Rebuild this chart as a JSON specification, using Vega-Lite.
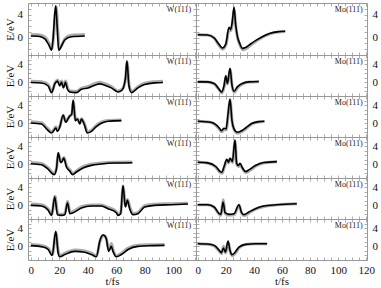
{
"$schema": "https://vega.github.io/schema/vega-lite/v6.json",
"padding": {"left": 3, "top": 0, "right": 0, "bottom": 0},
"background": "white",
"config": {
  "view": {"stroke": "#999999", "strokeWidth": 1},
  "font": "Liberation Serif",
  "axis": {"domain": false, "grid": false, "tickSize": -3, "tickColor": "#999999", "tickWidth": 0.8, "labelFont": "Liberation Serif", "labelFontSize": 11, "labelColor": "#111111", "titleFont": "Liberation Serif", "titleFontSize": 11, "titleFontWeight": "normal", "titleColor": "#111111", "labelFlush": false, "labelOverlap": false, "minExtent": 0}
},
"datasets": {"d": [
{"p":"L1","s":"b","t":0,"E":0.3},{"p":"L1","s":"b","t":5.2,"E":0.25},{"p":"L1","s":"b","t":9.8,"E":-0.2},{"p":"L1","s":"b","t":12.9,"E":-1.4},{"p":"L1","s":"b","t":14.5,"E":-2.2},{"p":"L1","s":"b","t":15.7,"E":0.1},{"p":"L1","s":"b","t":16.8,"E":4.1},{"p":"L1","s":"b","t":17.5,"E":5.5},{"p":"L1","s":"b","t":18.5,"E":1.8},{"p":"L1","s":"b","t":19.6,"E":-2.2},{"p":"L1","s":"b","t":21,"E":-1.7},{"p":"L1","s":"b","t":23.8,"E":-0.4},{"p":"L1","s":"b","t":28.5,"E":0.15},{"p":"L1","s":"b","t":37.9,"E":0.3},
{"p":"L1","s":"g","t":0,"E":0.55},{"p":"L1","s":"g","t":5.2,"E":0.5},{"p":"L1","s":"g","t":9.8,"E":0.1},{"p":"L1","s":"g","t":12.9,"E":-1.0},{"p":"L1","s":"g","t":14.8,"E":-1.9},{"p":"L1","s":"g","t":16,"E":0.3},{"p":"L1","s":"g","t":17.1,"E":4.2},{"p":"L1","s":"g","t":17.8,"E":5.3},{"p":"L1","s":"g","t":18.8,"E":1.8},{"p":"L1","s":"g","t":20,"E":-1.9},{"p":"L1","s":"g","t":21.5,"E":-1.4},{"p":"L1","s":"g","t":24.2,"E":-0.1},{"p":"L1","s":"g","t":28.5,"E":0.4},{"p":"L1","s":"g","t":37.9,"E":0.55},
{"p":"R1","s":"b","t":0,"E":0.5},{"p":"R1","s":"b","t":7,"E":0.45},{"p":"R1","s":"b","t":11.75,"E":-0.05},{"p":"R1","s":"b","t":15.3,"E":-1.2},{"p":"R1","s":"b","t":17.6,"E":-1.8},{"p":"R1","s":"b","t":20,"E":-1.1},{"p":"R1","s":"b","t":22.3,"E":1.8},{"p":"R1","s":"b","t":23.5,"E":1.4},{"p":"R1","s":"b","t":24.7,"E":2.95},{"p":"R1","s":"b","t":25.85,"E":5.3},{"p":"R1","s":"b","t":27,"E":2.3},{"p":"R1","s":"b","t":28.2,"E":0.3},{"p":"R1","s":"b","t":30.1,"E":-1.1},{"p":"R1","s":"b","t":31.7,"E":-1.85},{"p":"R1","s":"b","t":34.1,"E":-1.7},{"p":"R1","s":"b","t":37.6,"E":-1.1},{"p":"R1","s":"b","t":42.3,"E":-0.35},{"p":"R1","s":"b","t":47,"E":0.3},{"p":"R1","s":"b","t":51.7,"E":0.75},{"p":"R1","s":"b","t":56.4,"E":1.0},{"p":"R1","s":"b","t":62.3,"E":1.1},
{"p":"R1","s":"g","t":0,"E":0.5},{"p":"R1","s":"g","t":7,"E":0.45},{"p":"R1","s":"g","t":11.75,"E":-0.1},{"p":"R1","s":"g","t":15.3,"E":-1.35},{"p":"R1","s":"g","t":17.8,"E":-2.0},{"p":"R1","s":"g","t":20.2,"E":-1.2},{"p":"R1","s":"g","t":22.4,"E":1.5},{"p":"R1","s":"g","t":23.6,"E":1.2},{"p":"R1","s":"g","t":24.8,"E":2.6},{"p":"R1","s":"g","t":25.9,"E":4.8},{"p":"R1","s":"g","t":27.1,"E":2.0},{"p":"R1","s":"g","t":28.4,"E":0.0},{"p":"R1","s":"g","t":30.3,"E":-1.4},{"p":"R1","s":"g","t":32.1,"E":-2.1},{"p":"R1","s":"g","t":34.5,"E":-1.9},{"p":"R1","s":"g","t":38,"E":-1.25},{"p":"R1","s":"g","t":42.5,"E":-0.45},{"p":"R1","s":"g","t":47,"E":0.2},{"p":"R1","s":"g","t":51.7,"E":0.7},{"p":"R1","s":"g","t":56.4,"E":0.95},{"p":"R1","s":"g","t":62.3,"E":1.05},
{"p":"L2","s":"b","t":0,"E":-0.05},{"p":"L2","s":"b","t":7.5,"E":-0.15},{"p":"L2","s":"b","t":12.2,"E":-0.8},{"p":"L2","s":"b","t":14.5,"E":-2.26},{"p":"L2","s":"b","t":16.9,"E":-0.3},{"p":"L2","s":"b","t":18.7,"E":0.26},{"p":"L2","s":"b","t":20.3,"E":-0.78},{"p":"L2","s":"b","t":21.5,"E":0},{"p":"L2","s":"b","t":22.9,"E":-1.22},{"p":"L2","s":"b","t":24.3,"E":0},{"p":"L2","s":"b","t":25.7,"E":-1.52},{"p":"L2","s":"b","t":27.4,"E":-2.11},{"p":"L2","s":"b","t":32,"E":-2.26},{"p":"L2","s":"b","t":35.5,"E":-1.52},{"p":"L2","s":"b","t":40.2,"E":-1.22},{"p":"L2","s":"b","t":44.9,"E":-0.63},{"p":"L2","s":"b","t":48.4,"E":-0.33},{"p":"L2","s":"b","t":51.9,"E":-0.63},{"p":"L2","s":"b","t":56.5,"E":-1.22},{"p":"L2","s":"b","t":61.2,"E":-2.11},{"p":"L2","s":"b","t":64,"E":-1.74},{"p":"L2","s":"b","t":66.4,"E":0.8},{"p":"L2","s":"b","t":67.5,"E":4.7},{"p":"L2","s":"b","t":68.9,"E":-0.8},{"p":"L2","s":"b","t":70.6,"E":-2.26},{"p":"L2","s":"b","t":75.2,"E":-1.22},{"p":"L2","s":"b","t":79.9,"E":-0.48},{"p":"L2","s":"b","t":86.9,"E":-0.11},{"p":"L2","s":"b","t":92.8,"E":-0.04},
{"p":"L2","s":"g","t":0,"E":0.25},{"p":"L2","s":"g","t":7.5,"E":0.15},{"p":"L2","s":"g","t":12.2,"E":-0.5},{"p":"L2","s":"g","t":14.8,"E":-2.0},{"p":"L2","s":"g","t":17,"E":-0.1},{"p":"L2","s":"g","t":18.8,"E":0.5},{"p":"L2","s":"g","t":20.4,"E":-0.5},{"p":"L2","s":"g","t":21.6,"E":0.3},{"p":"L2","s":"g","t":23,"E":-0.9},{"p":"L2","s":"g","t":24.4,"E":0.3},{"p":"L2","s":"g","t":25.8,"E":-1.2},{"p":"L2","s":"g","t":27.6,"E":-1.9},{"p":"L2","s":"g","t":32,"E":-2.0},{"p":"L2","s":"g","t":35.5,"E":-1.3},{"p":"L2","s":"g","t":40.2,"E":-0.9},{"p":"L2","s":"g","t":44.9,"E":-0.3},{"p":"L2","s":"g","t":48.4,"E":0.0},{"p":"L2","s":"g","t":51.9,"E":-0.3},{"p":"L2","s":"g","t":56.5,"E":-0.95},{"p":"L2","s":"g","t":61.2,"E":-1.9},{"p":"L2","s":"g","t":64.2,"E":-1.5},{"p":"L2","s":"g","t":66.5,"E":0.8},{"p":"L2","s":"g","t":67.6,"E":4.4},{"p":"L2","s":"g","t":69,"E":-0.6},{"p":"L2","s":"g","t":70.8,"E":-2.0},{"p":"L2","s":"g","t":75.4,"E":-0.9},{"p":"L2","s":"g","t":80,"E":-0.2},{"p":"L2","s":"g","t":87,"E":0.15},{"p":"L2","s":"g","t":92.8,"E":0.25},
{"p":"R2","s":"b","t":0,"E":0.11},{"p":"R2","s":"b","t":7,"E":0.11},{"p":"R2","s":"b","t":11.75,"E":-0.26},{"p":"R2","s":"b","t":15.3,"E":-1.52},{"p":"R2","s":"b","t":16.9,"E":-2.11},{"p":"R2","s":"b","t":18.8,"E":-0.63},{"p":"R2","s":"b","t":20,"E":1.44},{"p":"R2","s":"b","t":21.15,"E":-0.26},{"p":"R2","s":"b","t":23,"E":3.07},{"p":"R2","s":"b","t":24.4,"E":-0.63},{"p":"R2","s":"b","t":25.85,"E":-1.96},{"p":"R2","s":"b","t":28.2,"E":-1.0},{"p":"R2","s":"b","t":31.7,"E":-0.26},{"p":"R2","s":"b","t":36.4,"E":0.11},{"p":"R2","s":"b","t":43.5,"E":0.18},
{"p":"R2","s":"g","t":0,"E":0.11},{"p":"R2","s":"g","t":7,"E":0.1},{"p":"R2","s":"g","t":11.75,"E":-0.35},{"p":"R2","s":"g","t":15.4,"E":-1.7},{"p":"R2","s":"g","t":17.1,"E":-2.35},{"p":"R2","s":"g","t":19,"E":-0.8},{"p":"R2","s":"g","t":20.1,"E":1.2},{"p":"R2","s":"g","t":21.3,"E":-0.4},{"p":"R2","s":"g","t":23.1,"E":2.8},{"p":"R2","s":"g","t":24.5,"E":-0.8},{"p":"R2","s":"g","t":26.1,"E":-2.2},{"p":"R2","s":"g","t":28.4,"E":-1.2},{"p":"R2","s":"g","t":31.9,"E":-0.4},{"p":"R2","s":"g","t":36.4,"E":0.05},{"p":"R2","s":"g","t":43.5,"E":0.15},
{"p":"L3","s":"b","t":0,"E":0.08},{"p":"L3","s":"b","t":7.5,"E":-0.14},{"p":"L3","s":"b","t":11,"E":-1.23},{"p":"L3","s":"b","t":14.5,"E":-2.11},{"p":"L3","s":"b","t":16.4,"E":-1.45},{"p":"L3","s":"b","t":17.5,"E":-1.02},{"p":"L3","s":"b","t":18.7,"E":-1.75},{"p":"L3","s":"b","t":20.3,"E":-0.87},{"p":"L3","s":"b","t":22.7,"E":1.84},{"p":"L3","s":"b","t":24.5,"E":0.23},{"p":"L3","s":"b","t":25.7,"E":0.74},{"p":"L3","s":"b","t":27.3,"E":1.6},{"p":"L3","s":"b","t":28.7,"E":2.0},{"p":"L3","s":"b","t":29.7,"E":5.1},{"p":"L3","s":"b","t":31.3,"E":0.59},{"p":"L3","s":"b","t":32.7,"E":0.96},{"p":"L3","s":"b","t":34.4,"E":-0.14},{"p":"L3","s":"b","t":35.5,"E":0.96},{"p":"L3","s":"b","t":37.4,"E":-0.14},{"p":"L3","s":"b","t":39.7,"E":-2.11},{"p":"L3","s":"b","t":42.5,"E":-1.75},{"p":"L3","s":"b","t":46,"E":-0.72},{"p":"L3","s":"b","t":49.5,"E":0},{"p":"L3","s":"b","t":54.2,"E":0.45},{"p":"L3","s":"b","t":63.6,"E":0.59},
{"p":"L3","s":"g","t":0,"E":0.35},{"p":"L3","s":"g","t":7.5,"E":0.15},{"p":"L3","s":"g","t":11,"E":-0.9},{"p":"L3","s":"g","t":14.8,"E":-1.85},{"p":"L3","s":"g","t":16.5,"E":-1.2},{"p":"L3","s":"g","t":17.6,"E":-0.75},{"p":"L3","s":"g","t":18.8,"E":-1.45},{"p":"L3","s":"g","t":20.4,"E":-0.6},{"p":"L3","s":"g","t":22.8,"E":1.7},{"p":"L3","s":"g","t":24.6,"E":0.4},{"p":"L3","s":"g","t":25.8,"E":0.9},{"p":"L3","s":"g","t":27.4,"E":1.6},{"p":"L3","s":"g","t":28.8,"E":2.0},{"p":"L3","s":"g","t":29.8,"E":4.8},{"p":"L3","s":"g","t":31.4,"E":0.7},{"p":"L3","s":"g","t":32.8,"E":1.0},{"p":"L3","s":"g","t":34.5,"E":0.05},{"p":"L3","s":"g","t":35.6,"E":1.0},{"p":"L3","s":"g","t":37.5,"E":0.05},{"p":"L3","s":"g","t":39.9,"E":-1.85},{"p":"L3","s":"g","t":42.7,"E":-1.5},{"p":"L3","s":"g","t":46,"E":-0.45},{"p":"L3","s":"g","t":49.5,"E":0.25},{"p":"L3","s":"g","t":54.2,"E":0.65},{"p":"L3","s":"g","t":63.6,"E":0.75},
{"p":"R3","s":"b","t":0,"E":0.45},{"p":"R3","s":"b","t":9.4,"E":0.23},{"p":"R3","s":"b","t":12.9,"E":-0.29},{"p":"R3","s":"b","t":15.3,"E":-1.02},{"p":"R3","s":"b","t":16.9,"E":-1.6},{"p":"R3","s":"b","t":18.8,"E":-1.09},{"p":"R3","s":"b","t":20.2,"E":-1.23},{"p":"R3","s":"b","t":21.6,"E":2.05},{"p":"R3","s":"b","t":23,"E":5.34},{"p":"R3","s":"b","t":24.4,"E":0.59},{"p":"R3","s":"b","t":25.85,"E":-1.23},{"p":"R3","s":"b","t":28.2,"E":-1.97},{"p":"R3","s":"b","t":30.55,"E":-1.75},{"p":"R3","s":"b","t":34.1,"E":-1.02},{"p":"R3","s":"b","t":38.8,"E":0},{"p":"R3","s":"b","t":43.5,"E":0.37},{"p":"R3","s":"b","t":47.5,"E":0.45},
{"p":"R3","s":"g","t":0,"E":0.45},{"p":"R3","s":"g","t":9.4,"E":0.2},{"p":"R3","s":"g","t":12.9,"E":-0.4},{"p":"R3","s":"g","t":15.3,"E":-1.25},{"p":"R3","s":"g","t":17,"E":-1.85},{"p":"R3","s":"g","t":18.9,"E":-1.3},{"p":"R3","s":"g","t":20.3,"E":-1.4},{"p":"R3","s":"g","t":21.7,"E":1.8},{"p":"R3","s":"g","t":23.1,"E":5.0},{"p":"R3","s":"g","t":24.5,"E":0.4},{"p":"R3","s":"g","t":26,"E":-1.45},{"p":"R3","s":"g","t":28.4,"E":-2.2},{"p":"R3","s":"g","t":30.7,"E":-1.95},{"p":"R3","s":"g","t":34.3,"E":-1.2},{"p":"R3","s":"g","t":38.8,"E":-0.1},{"p":"R3","s":"g","t":43.5,"E":0.3},{"p":"R3","s":"g","t":47.5,"E":0.4},
{"p":"L4","s":"b","t":0,"E":0.14},{"p":"L4","s":"b","t":7.5,"E":-0.08},{"p":"L4","s":"b","t":12.2,"E":-1.1},{"p":"L4","s":"b","t":16.4,"E":-2.27},{"p":"L4","s":"b","t":18,"E":-0.96},{"p":"L4","s":"b","t":19.2,"E":2.55},{"p":"L4","s":"b","t":21,"E":0.36},{"p":"L4","s":"b","t":22,"E":0.65},{"p":"L4","s":"b","t":23.1,"E":1.38},{"p":"L4","s":"b","t":25,"E":-0.59},{"p":"L4","s":"b","t":27.4,"E":-1.54},{"p":"L4","s":"b","t":29.2,"E":-2.27},{"p":"L4","s":"b","t":32,"E":-1.69},{"p":"L4","s":"b","t":36.7,"E":-0.81},{"p":"L4","s":"b","t":42.5,"E":-0.23},{"p":"L4","s":"b","t":49.5,"E":0.07},{"p":"L4","s":"b","t":58.9,"E":0.29},{"p":"L4","s":"b","t":71.3,"E":0.36},
{"p":"L4","s":"g","t":0,"E":0.4},{"p":"L4","s":"g","t":7.5,"E":0.2},{"p":"L4","s":"g","t":12.2,"E":-0.8},{"p":"L4","s":"g","t":16.6,"E":-2.0},{"p":"L4","s":"g","t":18.1,"E":-0.7},{"p":"L4","s":"g","t":19.3,"E":2.4},{"p":"L4","s":"g","t":21.1,"E":0.6},{"p":"L4","s":"g","t":22.1,"E":0.85},{"p":"L4","s":"g","t":23.2,"E":1.5},{"p":"L4","s":"g","t":25.1,"E":-0.3},{"p":"L4","s":"g","t":27.5,"E":-1.25},{"p":"L4","s":"g","t":29.4,"E":-2.0},{"p":"L4","s":"g","t":32.2,"E":-1.4},{"p":"L4","s":"g","t":36.7,"E":-0.5},{"p":"L4","s":"g","t":42.5,"E":0.05},{"p":"L4","s":"g","t":49.5,"E":0.3},{"p":"L4","s":"g","t":58.9,"E":0.45},{"p":"L4","s":"g","t":71.3,"E":0.5},
{"p":"R4","s":"b","t":0,"E":0.47},{"p":"R4","s":"b","t":7,"E":0.32},{"p":"R4","s":"b","t":12.9,"E":-0.48},{"p":"R4","s":"b","t":16,"E":-1.58},{"p":"R4","s":"b","t":17.15,"E":-1.73},{"p":"R4","s":"b","t":18.8,"E":-0.48},{"p":"R4","s":"b","t":20.7,"E":1.13},{"p":"R4","s":"b","t":21.85,"E":0.47},{"p":"R4","s":"b","t":23,"E":1.35},{"p":"R4","s":"b","t":24.7,"E":0.61},{"p":"R4","s":"b","t":26.55,"E":5.37},{"p":"R4","s":"b","t":27.7,"E":0.25},{"p":"R4","s":"b","t":28.9,"E":-0.26},{"p":"R4","s":"b","t":30.1,"E":0.25},{"p":"R4","s":"b","t":31.7,"E":-0.7},{"p":"R4","s":"b","t":34.1,"E":-1.58},{"p":"R4","s":"b","t":36.4,"E":-1.21},{"p":"R4","s":"b","t":41.1,"E":-0.26},{"p":"R4","s":"b","t":47,"E":0.39},{"p":"R4","s":"b","t":56.4,"E":0.6},
{"p":"R4","s":"g","t":0,"E":0.45},{"p":"R4","s":"g","t":7,"E":0.3},{"p":"R4","s":"g","t":12.9,"E":-0.6},{"p":"R4","s":"g","t":16.1,"E":-1.8},{"p":"R4","s":"g","t":17.3,"E":-1.95},{"p":"R4","s":"g","t":18.9,"E":-0.7},{"p":"R4","s":"g","t":20.8,"E":0.9},{"p":"R4","s":"g","t":22,"E":0.3},{"p":"R4","s":"g","t":23.1,"E":1.2},{"p":"R4","s":"g","t":24.8,"E":0.4},{"p":"R4","s":"g","t":26.6,"E":5.0},{"p":"R4","s":"g","t":27.8,"E":0.0},{"p":"R4","s":"g","t":29,"E":-0.5},{"p":"R4","s":"g","t":30.2,"E":0.0},{"p":"R4","s":"g","t":31.9,"E":-0.95},{"p":"R4","s":"g","t":34.3,"E":-1.8},{"p":"R4","s":"g","t":36.6,"E":-1.45},{"p":"R4","s":"g","t":41.2,"E":-0.4},{"p":"R4","s":"g","t":47,"E":0.3},{"p":"R4","s":"g","t":56.4,"E":0.55},
{"p":"L5","s":"b","t":0,"E":0},{"p":"L5","s":"b","t":7.5,"E":-0.15},{"p":"L5","s":"b","t":12.2,"E":-1.1},{"p":"L5","s":"b","t":14.5,"E":-2.2},{"p":"L5","s":"b","t":16.8,"E":1.82},{"p":"L5","s":"b","t":18.7,"E":-2.05},{"p":"L5","s":"b","t":21.5,"E":-2.2},{"p":"L5","s":"b","t":23.9,"E":-2.05},{"p":"L5","s":"b","t":25.7,"E":0.58},{"p":"L5","s":"b","t":27.4,"E":-1.83},{"p":"L5","s":"b","t":29.7,"E":-1.62},{"p":"L5","s":"b","t":35.5,"E":-0.59},{"p":"L5","s":"b","t":42.5,"E":-0.15},{"p":"L5","s":"b","t":49.5,"E":-0.15},{"p":"L5","s":"b","t":54.2,"E":-0.73},{"p":"L5","s":"b","t":60,"E":-1.62},{"p":"L5","s":"b","t":61.2,"E":-2.2},{"p":"L5","s":"b","t":63.1,"E":-1.83},{"p":"L5","s":"b","t":64.7,"E":4.38},{"p":"L5","s":"b","t":66.4,"E":-0.37},{"p":"L5","s":"b","t":67.8,"E":1.09},{"p":"L5","s":"b","t":69.4,"E":-0.73},{"p":"L5","s":"b","t":71.7,"E":-2.05},{"p":"L5","s":"b","t":75.2,"E":-1.83},{"p":"L5","s":"b","t":79.9,"E":-0.37},{"p":"L5","s":"b","t":86.9,"E":0},{"p":"L5","s":"b","t":98.6,"E":0.14},{"p":"L5","s":"b","t":110.3,"E":0.29},
{"p":"L5","s":"g","t":0,"E":0.3},{"p":"L5","s":"g","t":7.5,"E":0.15},{"p":"L5","s":"g","t":12.2,"E":-0.8},{"p":"L5","s":"g","t":14.7,"E":-1.95},{"p":"L5","s":"g","t":17,"E":2.0},{"p":"L5","s":"g","t":18.9,"E":-1.8},{"p":"L5","s":"g","t":21.5,"E":-1.95},{"p":"L5","s":"g","t":23.9,"E":-1.8},{"p":"L5","s":"g","t":25.8,"E":0.9},{"p":"L5","s":"g","t":27.6,"E":-1.55},{"p":"L5","s":"g","t":29.8,"E":-1.35},{"p":"L5","s":"g","t":35.5,"E":-0.3},{"p":"L5","s":"g","t":42.5,"E":0.1},{"p":"L5","s":"g","t":49.5,"E":0.1},{"p":"L5","s":"g","t":54.2,"E":-0.45},{"p":"L5","s":"g","t":60,"E":-1.35},{"p":"L5","s":"g","t":61.4,"E":-1.95},{"p":"L5","s":"g","t":63.2,"E":-1.5},{"p":"L5","s":"g","t":64.8,"E":4.1},{"p":"L5","s":"g","t":66.5,"E":-0.1},{"p":"L5","s":"g","t":67.9,"E":1.3},{"p":"L5","s":"g","t":69.6,"E":-0.45},{"p":"L5","s":"g","t":71.9,"E":-1.8},{"p":"L5","s":"g","t":75.3,"E":-1.55},{"p":"L5","s":"g","t":79.9,"E":-0.1},{"p":"L5","s":"g","t":86.9,"E":0.25},{"p":"L5","s":"g","t":98.6,"E":0.35},{"p":"L5","s":"g","t":110.3,"E":0.45},
{"p":"R5","s":"b","t":0,"E":0.14},{"p":"R5","s":"b","t":7,"E":0.14},{"p":"R5","s":"b","t":11.75,"E":-0.37},{"p":"R5","s":"b","t":15.3,"E":-1.83},{"p":"R5","s":"b","t":16.45,"E":-1.98},{"p":"R5","s":"b","t":18.1,"E":0.72},{"p":"R5","s":"b","t":19.5,"E":-1.62},{"p":"R5","s":"b","t":22.3,"E":-1.98},{"p":"R5","s":"b","t":25.85,"E":-1.83},{"p":"R5","s":"b","t":29.4,"E":0.14},{"p":"R5","s":"b","t":31.25,"E":-1.62},{"p":"R5","s":"b","t":32.9,"E":-2.05},{"p":"R5","s":"b","t":36.4,"E":-1.47},{"p":"R5","s":"b","t":41.1,"E":-0.73},{"p":"R5","s":"b","t":47,"E":-0.15},{"p":"R5","s":"b","t":56.4,"E":0.14},{"p":"R5","s":"b","t":70.55,"E":0.36},
{"p":"R5","s":"g","t":0,"E":0.14},{"p":"R5","s":"g","t":7,"E":0.12},{"p":"R5","s":"g","t":11.75,"E":-0.45},{"p":"R5","s":"g","t":15.4,"E":-2.0},{"p":"R5","s":"g","t":16.6,"E":-2.15},{"p":"R5","s":"g","t":18.2,"E":1.2},{"p":"R5","s":"g","t":19.6,"E":-1.8},{"p":"R5","s":"g","t":22.3,"E":-2.15},{"p":"R5","s":"g","t":26,"E":-2.0},{"p":"R5","s":"g","t":29.5,"E":0.0},{"p":"R5","s":"g","t":31.4,"E":-1.85},{"p":"R5","s":"g","t":33.1,"E":-2.25},{"p":"R5","s":"g","t":36.6,"E":-1.65},{"p":"R5","s":"g","t":41.2,"E":-0.85},{"p":"R5","s":"g","t":47,"E":-0.25},{"p":"R5","s":"g","t":56.4,"E":0.1},{"p":"R5","s":"g","t":70.55,"E":0.33},
{"p":"L6","s":"b","t":0,"E":0.15},{"p":"L6","s":"b","t":8.7,"E":-0.15},{"p":"L6","s":"b","t":12.2,"E":-0.7},{"p":"L6","s":"b","t":15,"E":-2.0},{"p":"L6","s":"b","t":17.5,"E":3.3},{"p":"L6","s":"b","t":19.2,"E":-1.5},{"p":"L6","s":"b","t":20.3,"E":-2.3},{"p":"L6","s":"b","t":23.9,"E":-1.8},{"p":"L6","s":"b","t":30.9,"E":-1.1},{"p":"L6","s":"b","t":37.9,"E":-1.3},{"p":"L6","s":"b","t":42.5,"E":-1.8},{"p":"L6","s":"b","t":46,"E":-2.3},{"p":"L6","s":"b","t":48.4,"E":1.1},{"p":"L6","s":"b","t":49.6,"E":2.2},{"p":"L6","s":"b","t":50.7,"E":2.5},{"p":"L6","s":"b","t":52,"E":2.3},{"p":"L6","s":"b","t":53,"E":1.6},{"p":"L6","s":"b","t":54.7,"E":-1.1},{"p":"L6","s":"b","t":56.5,"E":0},{"p":"L6","s":"b","t":57.7,"E":-1.1},{"p":"L6","s":"b","t":60,"E":-2.3},{"p":"L6","s":"b","t":63.6,"E":-1.8},{"p":"L6","s":"b","t":68.3,"E":-0.7},{"p":"L6","s":"b","t":75.2,"E":0},{"p":"L6","s":"b","t":84.6,"E":0.15},{"p":"L6","s":"b","t":93.9,"E":0.2},
{"p":"L6","s":"g","t":0,"E":0.4},{"p":"L6","s":"g","t":8.7,"E":0.1},{"p":"L6","s":"g","t":12.2,"E":-0.45},{"p":"L6","s":"g","t":15.2,"E":-1.75},{"p":"L6","s":"g","t":17.6,"E":3.0},{"p":"L6","s":"g","t":19.3,"E":-1.2},{"p":"L6","s":"g","t":20.5,"E":-2.0},{"p":"L6","s":"g","t":23.9,"E":-1.5},{"p":"L6","s":"g","t":30.9,"E":-0.8},{"p":"L6","s":"g","t":37.9,"E":-1.0},{"p":"L6","s":"g","t":42.5,"E":-1.5},{"p":"L6","s":"g","t":46.2,"E":-2.05},{"p":"L6","s":"g","t":48.5,"E":1.0},{"p":"L6","s":"g","t":49.7,"E":2.0},{"p":"L6","s":"g","t":50.8,"E":2.3},{"p":"L6","s":"g","t":52.1,"E":2.2},{"p":"L6","s":"g","t":53.1,"E":1.6},{"p":"L6","s":"g","t":54.8,"E":-0.8},{"p":"L6","s":"g","t":56.6,"E":0.6},{"p":"L6","s":"g","t":57.8,"E":-0.8},{"p":"L6","s":"g","t":60.2,"E":-2.05},{"p":"L6","s":"g","t":63.7,"E":-1.5},{"p":"L6","s":"g","t":68.3,"E":-0.4},{"p":"L6","s":"g","t":75.2,"E":0.25},{"p":"L6","s":"g","t":84.6,"E":0.35},{"p":"L6","s":"g","t":93.9,"E":0.4},
{"p":"R6","s":"b","t":0,"E":0.58},{"p":"R6","s":"b","t":7,"E":0.5},{"p":"R6","s":"b","t":11.75,"E":0.21},{"p":"R6","s":"b","t":15.3,"E":-0.88},{"p":"R6","s":"b","t":16.9,"E":-1.4},{"p":"R6","s":"b","t":18.3,"E":-0.37},{"p":"R6","s":"b","t":19.75,"E":-1.25},{"p":"R6","s":"b","t":21.6,"E":1.16},{"p":"R6","s":"b","t":23,"E":-0.88},{"p":"R6","s":"b","t":24.4,"E":-1.84},{"p":"R6","s":"b","t":26.3,"E":-1.4},{"p":"R6","s":"b","t":29.4,"E":-0.15},{"p":"R6","s":"b","t":34.1,"E":0.43},{"p":"R6","s":"b","t":41.1,"E":0.58},{"p":"R6","s":"b","t":49.4,"E":0.58},
{"p":"R6","s":"g","t":0,"E":0.55},{"p":"R6","s":"g","t":7,"E":0.48},{"p":"R6","s":"g","t":11.75,"E":0.1},{"p":"R6","s":"g","t":15.4,"E":-1.05},{"p":"R6","s":"g","t":17,"E":-1.6},{"p":"R6","s":"g","t":18.4,"E":0.0},{"p":"R6","s":"g","t":19.9,"E":-1.45},{"p":"R6","s":"g","t":21.7,"E":0.95},{"p":"R6","s":"g","t":23.1,"E":-1.1},{"p":"R6","s":"g","t":24.6,"E":-2.05},{"p":"R6","s":"g","t":26.5,"E":-1.6},{"p":"R6","s":"g","t":29.5,"E":-0.3},{"p":"R6","s":"g","t":34.1,"E":0.38},{"p":"R6","s":"g","t":41.1,"E":0.55},{"p":"R6","s":"g","t":49.4,"E":0.55}
]},
"columns": 2,
"spacing": 0,
"bounds": "flush",
"align": "each",
"concat": [
 {"width": 168, "height": 52, "data": {"name": "d"}, "layer": [
  {"transform": [{"filter": "datum.p == 'L1' && datum.s == 'g'"}], "mark": {"type": "line", "color": "#ababab", "strokeWidth": 3, "interpolate": "monotone"},
   "encoding": {"x": {"field": "t", "type": "quantitative", "scale": {"domain": [-2, 116], "nice": false, "zero": false}, "axis": {"orient": "bottom", "values": [0,5,10,15,20,25,30,35,40,45,50,55,60,65,70,75,80,85,90,95,100,105,110,115], "labels": false, "title": null}},
    "y": {"field": "E", "type": "quantitative", "scale": {"domain": [-3, 6], "nice": false, "zero": false}, "axis": {"orient": "left", "values": [-2,-1,0,1,2,3,4,5], "labelExpr": "datum.value == 0 || datum.value == 4 ? datum.label : ''", "labelPadding": 8.5, "title": "E/eV", "titlePadding": 2}}}},
  {"transform": [{"filter": "datum.p == 'L1' && datum.s == 'b'"}], "mark": {"type": "line", "color": "#000000", "strokeWidth": 1.6, "interpolate": "monotone"},
   "encoding": {"x": {"field": "t", "type": "quantitative", "axis": {"orient": "top", "values": [0,5,10,15,20,25,30,35,40,45,50,55,60,65,70,75,80,85,90,95,100,105,110,115], "labels": false, "title": null}},
    "y": {"field": "E", "type": "quantitative", "axis": {"orient": "right", "values": [-2,-1,0,1,2,3,4,5], "labels": false, "title": null}}}},
  {"data": {"values": [{}]}, "mark": {"type": "text", "text": "W(111)", "align": "right", "baseline": "middle", "fontSize": 8, "font": "Liberation Serif", "color": "#222222"},
   "encoding": {"x": {"datum": 112.6, "type": "quantitative", "axis": null}, "y": {"datum": 4.8, "type": "quantitative", "axis": null}}}
 ], "resolve": {"axis": {"x": "independent", "y": "independent"}}},
 {"width": 171, "height": 52, "data": {"name": "d"}, "layer": [
  {"transform": [{"filter": "datum.p == 'R1' && datum.s == 'g'"}], "mark": {"type": "line", "color": "#ababab", "strokeWidth": 3, "interpolate": "monotone"},
   "encoding": {"x": {"field": "t", "type": "quantitative", "scale": {"domain": [-1.2, 120.5], "nice": false, "zero": false}, "axis": {"orient": "bottom", "values": [0,5,10,15,20,25,30,35,40,45,50,55,60,65,70,75,80,85,90,95,100,105,110,115,120], "labels": false, "title": null}},
    "y": {"field": "E", "type": "quantitative", "scale": {"domain": [-3, 6], "nice": false, "zero": false}, "axis": {"orient": "right", "values": [-2,-1,0,1,2,3,4,5], "labelExpr": "datum.value == 0 || datum.value == 4 ? datum.label : ''", "labelPadding": 8, "title": null}}}},
  {"transform": [{"filter": "datum.p == 'R1' && datum.s == 'b'"}], "mark": {"type": "line", "color": "#000000", "strokeWidth": 1.6, "interpolate": "monotone"},
   "encoding": {"x": {"field": "t", "type": "quantitative", "axis": {"orient": "top", "values": [0,5,10,15,20,25,30,35,40,45,50,55,60,65,70,75,80,85,90,95,100,105,110,115,120], "labels": false, "title": null}},
    "y": {"field": "E", "type": "quantitative", "axis": {"orient": "left", "values": [-2,-1,0,1,2,3,4,5], "labels": false, "title": null}}}},
  {"data": {"values": [{}]}, "mark": {"type": "text", "text": "Mo(111)", "align": "right", "baseline": "middle", "fontSize": 8, "font": "Liberation Serif", "color": "#222222"},
   "encoding": {"x": {"datum": 117.4, "type": "quantitative", "axis": null}, "y": {"datum": 4.8, "type": "quantitative", "axis": null}}}
 ], "resolve": {"axis": {"x": "independent", "y": "independent"}}},
 {"width": 168, "height": 41, "data": {"name": "d"}, "layer": [
  {"transform": [{"filter": "datum.p == 'L2' && datum.s == 'g'"}], "mark": {"type": "line", "color": "#ababab", "strokeWidth": 3, "interpolate": "monotone"},
   "encoding": {"x": {"field": "t", "type": "quantitative", "scale": {"domain": [-2, 116], "nice": false, "zero": false}, "axis": {"orient": "bottom", "values": [0,5,10,15,20,25,30,35,40,45,50,55,60,65,70,75,80,85,90,95,100,105,110,115], "labels": false, "title": null}},
    "y": {"field": "E", "type": "quantitative", "scale": {"domain": [-3, 6], "nice": false, "zero": false}, "axis": {"orient": "left", "values": [-2,-1,0,1,2,3,4,5], "labelExpr": "datum.value == 0 || datum.value == 4 ? datum.label : ''", "labelPadding": 8.5, "title": "E/eV", "titlePadding": 2}}}},
  {"transform": [{"filter": "datum.p == 'L2' && datum.s == 'b'"}], "mark": {"type": "line", "color": "#000000", "strokeWidth": 1.6, "interpolate": "monotone"},
   "encoding": {"x": {"field": "t", "type": "quantitative", "axis": {"orient": "top", "values": [0,5,10,15,20,25,30,35,40,45,50,55,60,65,70,75,80,85,90,95,100,105,110,115], "labels": false, "title": null}},
    "y": {"field": "E", "type": "quantitative", "axis": {"orient": "right", "values": [-2,-1,0,1,2,3,4,5], "labels": false, "title": null}}}},
  {"data": {"values": [{}]}, "mark": {"type": "text", "text": "W(111)", "align": "right", "baseline": "middle", "fontSize": 8, "font": "Liberation Serif", "color": "#222222"},
   "encoding": {"x": {"datum": 112.6, "type": "quantitative", "axis": null}, "y": {"datum": 4.5, "type": "quantitative", "axis": null}}}
 ], "resolve": {"axis": {"x": "independent", "y": "independent"}}},
 {"width": 171, "height": 41, "data": {"name": "d"}, "layer": [
  {"transform": [{"filter": "datum.p == 'R2' && datum.s == 'g'"}], "mark": {"type": "line", "color": "#ababab", "strokeWidth": 3, "interpolate": "monotone"},
   "encoding": {"x": {"field": "t", "type": "quantitative", "scale": {"domain": [-1.2, 120.5], "nice": false, "zero": false}, "axis": {"orient": "bottom", "values": [0,5,10,15,20,25,30,35,40,45,50,55,60,65,70,75,80,85,90,95,100,105,110,115,120], "labels": false, "title": null}},
    "y": {"field": "E", "type": "quantitative", "scale": {"domain": [-3, 6], "nice": false, "zero": false}, "axis": {"orient": "right", "values": [-2,-1,0,1,2,3,4,5], "labelExpr": "datum.value == 0 || datum.value == 4 ? datum.label : ''", "labelPadding": 8, "title": null}}}},
  {"transform": [{"filter": "datum.p == 'R2' && datum.s == 'b'"}], "mark": {"type": "line", "color": "#000000", "strokeWidth": 1.6, "interpolate": "monotone"},
   "encoding": {"x": {"field": "t", "type": "quantitative", "axis": {"orient": "top", "values": [0,5,10,15,20,25,30,35,40,45,50,55,60,65,70,75,80,85,90,95,100,105,110,115,120], "labels": false, "title": null}},
    "y": {"field": "E", "type": "quantitative", "axis": {"orient": "left", "values": [-2,-1,0,1,2,3,4,5], "labels": false, "title": null}}}},
  {"data": {"values": [{}]}, "mark": {"type": "text", "text": "Mo(111)", "align": "right", "baseline": "middle", "fontSize": 8, "font": "Liberation Serif", "color": "#222222"},
   "encoding": {"x": {"datum": 117.4, "type": "quantitative", "axis": null}, "y": {"datum": 4.5, "type": "quantitative", "axis": null}}}
 ], "resolve": {"axis": {"x": "independent", "y": "independent"}}},
 {"width": 168, "height": 41, "data": {"name": "d"}, "layer": [
  {"transform": [{"filter": "datum.p == 'L3' && datum.s == 'g'"}], "mark": {"type": "line", "color": "#ababab", "strokeWidth": 3, "interpolate": "monotone"},
   "encoding": {"x": {"field": "t", "type": "quantitative", "scale": {"domain": [-2, 116], "nice": false, "zero": false}, "axis": {"orient": "bottom", "values": [0,5,10,15,20,25,30,35,40,45,50,55,60,65,70,75,80,85,90,95,100,105,110,115], "labels": false, "title": null}},
    "y": {"field": "E", "type": "quantitative", "scale": {"domain": [-3, 6], "nice": false, "zero": false}, "axis": {"orient": "left", "values": [-2,-1,0,1,2,3,4,5], "labelExpr": "datum.value == 0 || datum.value == 4 ? datum.label : ''", "labelPadding": 8.5, "title": "E/eV", "titlePadding": 2}}}},
  {"transform": [{"filter": "datum.p == 'L3' && datum.s == 'b'"}], "mark": {"type": "line", "color": "#000000", "strokeWidth": 1.6, "interpolate": "monotone"},
   "encoding": {"x": {"field": "t", "type": "quantitative", "axis": {"orient": "top", "values": [0,5,10,15,20,25,30,35,40,45,50,55,60,65,70,75,80,85,90,95,100,105,110,115], "labels": false, "title": null}},
    "y": {"field": "E", "type": "quantitative", "axis": {"orient": "right", "values": [-2,-1,0,1,2,3,4,5], "labels": false, "title": null}}}},
  {"data": {"values": [{}]}, "mark": {"type": "text", "text": "W(111)", "align": "right", "baseline": "middle", "fontSize": 8, "font": "Liberation Serif", "color": "#222222"},
   "encoding": {"x": {"datum": 112.6, "type": "quantitative", "axis": null}, "y": {"datum": 4.5, "type": "quantitative", "axis": null}}}
 ], "resolve": {"axis": {"x": "independent", "y": "independent"}}},
 {"width": 171, "height": 41, "data": {"name": "d"}, "layer": [
  {"transform": [{"filter": "datum.p == 'R3' && datum.s == 'g'"}], "mark": {"type": "line", "color": "#ababab", "strokeWidth": 3, "interpolate": "monotone"},
   "encoding": {"x": {"field": "t", "type": "quantitative", "scale": {"domain": [-1.2, 120.5], "nice": false, "zero": false}, "axis": {"orient": "bottom", "values": [0,5,10,15,20,25,30,35,40,45,50,55,60,65,70,75,80,85,90,95,100,105,110,115,120], "labels": false, "title": null}},
    "y": {"field": "E", "type": "quantitative", "scale": {"domain": [-3, 6], "nice": false, "zero": false}, "axis": {"orient": "right", "values": [-2,-1,0,1,2,3,4,5], "labelExpr": "datum.value == 0 || datum.value == 4 ? datum.label : ''", "labelPadding": 8, "title": null}}}},
  {"transform": [{"filter": "datum.p == 'R3' && datum.s == 'b'"}], "mark": {"type": "line", "color": "#000000", "strokeWidth": 1.6, "interpolate": "monotone"},
   "encoding": {"x": {"field": "t", "type": "quantitative", "axis": {"orient": "top", "values": [0,5,10,15,20,25,30,35,40,45,50,55,60,65,70,75,80,85,90,95,100,105,110,115,120], "labels": false, "title": null}},
    "y": {"field": "E", "type": "quantitative", "axis": {"orient": "left", "values": [-2,-1,0,1,2,3,4,5], "labels": false, "title": null}}}},
  {"data": {"values": [{}]}, "mark": {"type": "text", "text": "Mo(111)", "align": "right", "baseline": "middle", "fontSize": 8, "font": "Liberation Serif", "color": "#222222"},
   "encoding": {"x": {"datum": 117.4, "type": "quantitative", "axis": null}, "y": {"datum": 4.5, "type": "quantitative", "axis": null}}}
 ], "resolve": {"axis": {"x": "independent", "y": "independent"}}},
 {"width": 168, "height": 41, "data": {"name": "d"}, "layer": [
  {"transform": [{"filter": "datum.p == 'L4' && datum.s == 'g'"}], "mark": {"type": "line", "color": "#ababab", "strokeWidth": 3, "interpolate": "monotone"},
   "encoding": {"x": {"field": "t", "type": "quantitative", "scale": {"domain": [-2, 116], "nice": false, "zero": false}, "axis": {"orient": "bottom", "values": [0,5,10,15,20,25,30,35,40,45,50,55,60,65,70,75,80,85,90,95,100,105,110,115], "labels": false, "title": null}},
    "y": {"field": "E", "type": "quantitative", "scale": {"domain": [-3, 6], "nice": false, "zero": false}, "axis": {"orient": "left", "values": [-2,-1,0,1,2,3,4,5], "labelExpr": "datum.value == 0 || datum.value == 4 ? datum.label : ''", "labelPadding": 8.5, "title": "E/eV", "titlePadding": 2}}}},
  {"transform": [{"filter": "datum.p == 'L4' && datum.s == 'b'"}], "mark": {"type": "line", "color": "#000000", "strokeWidth": 1.6, "interpolate": "monotone"},
   "encoding": {"x": {"field": "t", "type": "quantitative", "axis": {"orient": "top", "values": [0,5,10,15,20,25,30,35,40,45,50,55,60,65,70,75,80,85,90,95,100,105,110,115], "labels": false, "title": null}},
    "y": {"field": "E", "type": "quantitative", "axis": {"orient": "right", "values": [-2,-1,0,1,2,3,4,5], "labels": false, "title": null}}}},
  {"data": {"values": [{}]}, "mark": {"type": "text", "text": "W(111)", "align": "right", "baseline": "middle", "fontSize": 8, "font": "Liberation Serif", "color": "#222222"},
   "encoding": {"x": {"datum": 112.6, "type": "quantitative", "axis": null}, "y": {"datum": 4.5, "type": "quantitative", "axis": null}}}
 ], "resolve": {"axis": {"x": "independent", "y": "independent"}}},
 {"width": 171, "height": 41, "data": {"name": "d"}, "layer": [
  {"transform": [{"filter": "datum.p == 'R4' && datum.s == 'g'"}], "mark": {"type": "line", "color": "#ababab", "strokeWidth": 3, "interpolate": "monotone"},
   "encoding": {"x": {"field": "t", "type": "quantitative", "scale": {"domain": [-1.2, 120.5], "nice": false, "zero": false}, "axis": {"orient": "bottom", "values": [0,5,10,15,20,25,30,35,40,45,50,55,60,65,70,75,80,85,90,95,100,105,110,115,120], "labels": false, "title": null}},
    "y": {"field": "E", "type": "quantitative", "scale": {"domain": [-3, 6], "nice": false, "zero": false}, "axis": {"orient": "right", "values": [-2,-1,0,1,2,3,4,5], "labelExpr": "datum.value == 0 || datum.value == 4 ? datum.label : ''", "labelPadding": 8, "title": null}}}},
  {"transform": [{"filter": "datum.p == 'R4' && datum.s == 'b'"}], "mark": {"type": "line", "color": "#000000", "strokeWidth": 1.6, "interpolate": "monotone"},
   "encoding": {"x": {"field": "t", "type": "quantitative", "axis": {"orient": "top", "values": [0,5,10,15,20,25,30,35,40,45,50,55,60,65,70,75,80,85,90,95,100,105,110,115,120], "labels": false, "title": null}},
    "y": {"field": "E", "type": "quantitative", "axis": {"orient": "left", "values": [-2,-1,0,1,2,3,4,5], "labels": false, "title": null}}}},
  {"data": {"values": [{}]}, "mark": {"type": "text", "text": "Mo(111)", "align": "right", "baseline": "middle", "fontSize": 8, "font": "Liberation Serif", "color": "#222222"},
   "encoding": {"x": {"datum": 117.4, "type": "quantitative", "axis": null}, "y": {"datum": 4.5, "type": "quantitative", "axis": null}}}
 ], "resolve": {"axis": {"x": "independent", "y": "independent"}}},
 {"width": 168, "height": 41, "data": {"name": "d"}, "layer": [
  {"transform": [{"filter": "datum.p == 'L5' && datum.s == 'g'"}], "mark": {"type": "line", "color": "#ababab", "strokeWidth": 3, "interpolate": "monotone"},
   "encoding": {"x": {"field": "t", "type": "quantitative", "scale": {"domain": [-2, 116], "nice": false, "zero": false}, "axis": {"orient": "bottom", "values": [0,5,10,15,20,25,30,35,40,45,50,55,60,65,70,75,80,85,90,95,100,105,110,115], "labels": false, "title": null}},
    "y": {"field": "E", "type": "quantitative", "scale": {"domain": [-3, 6], "nice": false, "zero": false}, "axis": {"orient": "left", "values": [-2,-1,0,1,2,3,4,5], "labelExpr": "datum.value == 0 || datum.value == 4 ? datum.label : ''", "labelPadding": 8.5, "title": "E/eV", "titlePadding": 2}}}},
  {"transform": [{"filter": "datum.p == 'L5' && datum.s == 'b'"}], "mark": {"type": "line", "color": "#000000", "strokeWidth": 1.6, "interpolate": "monotone"},
   "encoding": {"x": {"field": "t", "type": "quantitative", "axis": {"orient": "top", "values": [0,5,10,15,20,25,30,35,40,45,50,55,60,65,70,75,80,85,90,95,100,105,110,115], "labels": false, "title": null}},
    "y": {"field": "E", "type": "quantitative", "axis": {"orient": "right", "values": [-2,-1,0,1,2,3,4,5], "labels": false, "title": null}}}},
  {"data": {"values": [{}]}, "mark": {"type": "text", "text": "W(111)", "align": "right", "baseline": "middle", "fontSize": 8, "font": "Liberation Serif", "color": "#222222"},
   "encoding": {"x": {"datum": 112.6, "type": "quantitative", "axis": null}, "y": {"datum": 4.5, "type": "quantitative", "axis": null}}}
 ], "resolve": {"axis": {"x": "independent", "y": "independent"}}},
 {"width": 171, "height": 41, "data": {"name": "d"}, "layer": [
  {"transform": [{"filter": "datum.p == 'R5' && datum.s == 'g'"}], "mark": {"type": "line", "color": "#ababab", "strokeWidth": 3, "interpolate": "monotone"},
   "encoding": {"x": {"field": "t", "type": "quantitative", "scale": {"domain": [-1.2, 120.5], "nice": false, "zero": false}, "axis": {"orient": "bottom", "values": [0,5,10,15,20,25,30,35,40,45,50,55,60,65,70,75,80,85,90,95,100,105,110,115,120], "labels": false, "title": null}},
    "y": {"field": "E", "type": "quantitative", "scale": {"domain": [-3, 6], "nice": false, "zero": false}, "axis": {"orient": "right", "values": [-2,-1,0,1,2,3,4,5], "labelExpr": "datum.value == 0 || datum.value == 4 ? datum.label : ''", "labelPadding": 8, "title": null}}}},
  {"transform": [{"filter": "datum.p == 'R5' && datum.s == 'b'"}], "mark": {"type": "line", "color": "#000000", "strokeWidth": 1.6, "interpolate": "monotone"},
   "encoding": {"x": {"field": "t", "type": "quantitative", "axis": {"orient": "top", "values": [0,5,10,15,20,25,30,35,40,45,50,55,60,65,70,75,80,85,90,95,100,105,110,115,120], "labels": false, "title": null}},
    "y": {"field": "E", "type": "quantitative", "axis": {"orient": "left", "values": [-2,-1,0,1,2,3,4,5], "labels": false, "title": null}}}},
  {"data": {"values": [{}]}, "mark": {"type": "text", "text": "Mo(111)", "align": "right", "baseline": "middle", "fontSize": 8, "font": "Liberation Serif", "color": "#222222"},
   "encoding": {"x": {"datum": 117.4, "type": "quantitative", "axis": null}, "y": {"datum": 4.5, "type": "quantitative", "axis": null}}}
 ], "resolve": {"axis": {"x": "independent", "y": "independent"}}},
 {"width": 168, "height": 41, "data": {"name": "d"}, "layer": [
  {"transform": [{"filter": "datum.p == 'L6' && datum.s == 'g'"}], "mark": {"type": "line", "color": "#ababab", "strokeWidth": 3, "interpolate": "monotone"},
   "encoding": {"x": {"field": "t", "type": "quantitative", "scale": {"domain": [-2, 116], "nice": false, "zero": false}, "axis": {"orient": "bottom", "values": [0,5,10,15,20,25,30,35,40,45,50,55,60,65,70,75,80,85,90,95,100,105,110,115], "labelExpr": "datum.value % 20 == 0 ? datum.label : ''", "labelPadding": 7, "title": "t/fs", "titlePadding": 0}},
    "y": {"field": "E", "type": "quantitative", "scale": {"domain": [-3, 6], "nice": false, "zero": false}, "axis": {"orient": "left", "values": [-2,-1,0,1,2,3,4,5], "labelExpr": "datum.value == 0 || datum.value == 4 ? datum.label : ''", "labelPadding": 8.5, "title": "E/eV", "titlePadding": 2}}}},
  {"transform": [{"filter": "datum.p == 'L6' && datum.s == 'b'"}], "mark": {"type": "line", "color": "#000000", "strokeWidth": 1.6, "interpolate": "monotone"},
   "encoding": {"x": {"field": "t", "type": "quantitative", "axis": {"orient": "top", "values": [0,5,10,15,20,25,30,35,40,45,50,55,60,65,70,75,80,85,90,95,100,105,110,115], "labels": false, "title": null}},
    "y": {"field": "E", "type": "quantitative", "axis": {"orient": "right", "values": [-2,-1,0,1,2,3,4,5], "labels": false, "title": null}}}},
  {"data": {"values": [{}]}, "mark": {"type": "text", "text": "W(111)", "align": "right", "baseline": "middle", "fontSize": 8, "font": "Liberation Serif", "color": "#222222"},
   "encoding": {"x": {"datum": 112.6, "type": "quantitative", "axis": null}, "y": {"datum": 4.5, "type": "quantitative", "axis": null}}}
 ], "resolve": {"axis": {"x": "independent", "y": "independent"}}},
 {"width": 171, "height": 41, "data": {"name": "d"}, "layer": [
  {"transform": [{"filter": "datum.p == 'R6' && datum.s == 'g'"}], "mark": {"type": "line", "color": "#ababab", "strokeWidth": 3, "interpolate": "monotone"},
   "encoding": {"x": {"field": "t", "type": "quantitative", "scale": {"domain": [-1.2, 120.5], "nice": false, "zero": false}, "axis": {"orient": "bottom", "values": [0,5,10,15,20,25,30,35,40,45,50,55,60,65,70,75,80,85,90,95,100,105,110,115,120], "labelExpr": "datum.value % 20 == 0 ? datum.label : ''", "labelPadding": 7, "title": "t/fs", "titlePadding": 0}},
    "y": {"field": "E", "type": "quantitative", "scale": {"domain": [-3, 6], "nice": false, "zero": false}, "axis": {"orient": "right", "values": [-2,-1,0,1,2,3,4,5], "labelExpr": "datum.value == 0 || datum.value == 4 ? datum.label : ''", "labelPadding": 8, "title": null}}}},
  {"transform": [{"filter": "datum.p == 'R6' && datum.s == 'b'"}], "mark": {"type": "line", "color": "#000000", "strokeWidth": 1.6, "interpolate": "monotone"},
   "encoding": {"x": {"field": "t", "type": "quantitative", "axis": {"orient": "top", "values": [0,5,10,15,20,25,30,35,40,45,50,55,60,65,70,75,80,85,90,95,100,105,110,115,120], "labels": false, "title": null}},
    "y": {"field": "E", "type": "quantitative", "axis": {"orient": "left", "values": [-2,-1,0,1,2,3,4,5], "labels": false, "title": null}}}},
  {"data": {"values": [{}]}, "mark": {"type": "text", "text": "Mo(111)", "align": "right", "baseline": "middle", "fontSize": 8, "font": "Liberation Serif", "color": "#222222"},
   "encoding": {"x": {"datum": 117.4, "type": "quantitative", "axis": null}, "y": {"datum": 4.5, "type": "quantitative", "axis": null}}}
 ], "resolve": {"axis": {"x": "independent", "y": "independent"}}}
]
}
